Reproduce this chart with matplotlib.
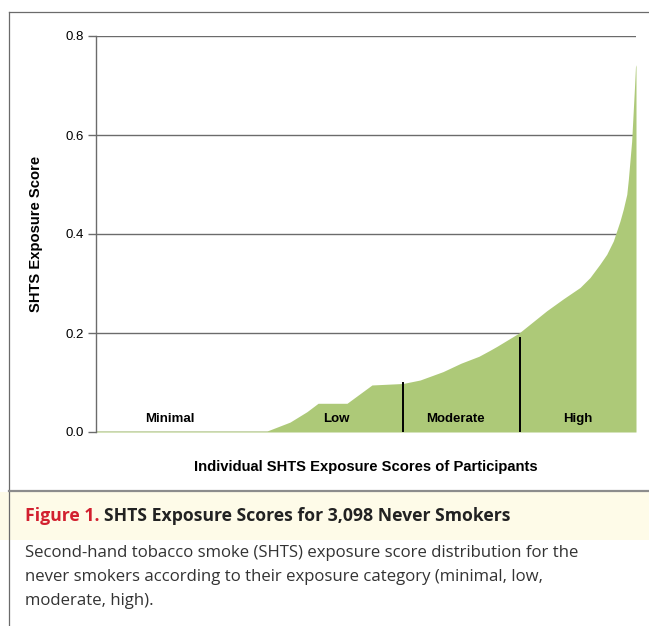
import matplotlib
matplotlib.use('Agg')
import matplotlib.pyplot as plt
from matplotlib.patches import Rectangle
from matplotlib.lines import Line2D

# participants sorted by exposure score (rank, score)
rank = [0, 981, 1113, 1210, 1274, 1440, 1583, 1761, 1859, 1991, 2094, 2197,
        2260, 2300, 2427, 2586, 2681, 2777, 2834, 2891, 2930, 2968, 2987,
        3006, 3025, 3045, 3054, 3073, 3083, 3089, 3095, 3098]
score = [0.002, 0.002, 0.020, 0.041, 0.058, 0.058, 0.095, 0.098, 0.105,
         0.122, 0.139, 0.153, 0.165, 0.173, 0.200, 0.245, 0.269, 0.292,
         0.312, 0.339, 0.359, 0.386, 0.406, 0.426, 0.450, 0.480, 0.510,
         0.587, 0.654, 0.694, 0.738, 0.742]

# category boundaries (rank, line height) and labels
cut_rank = [1761, 2432]
cut_top = [0.098, 0.190]
cat_names = ['Minimal', 'Low', 'Moderate', 'High']
cat_pos = [425, 1380, 2060, 2765]

yticks = [0.0, 0.2, 0.4, 0.6, 0.8]

green = '#adc978'
grey = '#6b6b6b'

fig = plt.figure(figsize=(6.49, 6.26), dpi=100)
W, H = 649.0, 626.0

ax = fig.add_axes([96 / W, 1 - 432 / H, 540 / W, 396 / H])
ax.fill_between(rank, 0, score, color=green, linewidth=0, zorder=2)
for r, t in zip(cut_rank, cut_top):
    ax.plot([r, r], [0, t], color='black', linewidth=1.4, zorder=3)
for name, p in zip(cat_names, cat_pos):
    ax.text(p, 0.027, name, ha='center', va='center', fontsize=9.5,
            fontweight='bold', family='Liberation Sans', zorder=4)

ax.set_xlim(0, 3098)
ax.set_ylim(0, 0.8)
ax.set_yticks(yticks)
ax.set_yticklabels(['%.1f' % v for v in yticks], family='Liberation Sans',
                   fontsize=9.5)
ax.set_xticks([])
for v in yticks[1:]:
    ax.axhline(v, color=grey, linewidth=1.0, zorder=1)
ax.axhline(0, color=grey, linewidth=1.0, zorder=1)
for s in ['top', 'right', 'bottom']:
    ax.spines[s].set_visible(False)
ax.spines['left'].set_color(grey)
ax.spines['left'].set_linewidth(1.0)
ax.tick_params(axis='y', length=5.8, width=1.0, color=grey, pad=3)
ax.set_ylabel('SHTS Exposure Score', fontsize=10.6, fontweight='bold',
              family='Liberation Sans', labelpad=16)
ax.set_xlabel('Individual SHTS Exposure Scores of Participants', fontsize=10.6,
              fontweight='bold', family='Liberation Sans', labelpad=20)

# frame around the figure and caption band
fig.add_artist(Rectangle((0, 1 - 540 / H), 1, 48 / H, transform=fig.transFigure,
                         facecolor='#fefbe8', edgecolor='none', zorder=0))
fig.add_artist(Line2D([9 / W, 1], [1 - 12 / H, 1 - 12 / H],
                      transform=fig.transFigure, color=grey, linewidth=0.9))
fig.add_artist(Line2D([9 / W, 9 / W], [0, 1 - 12 / H],
                      transform=fig.transFigure, color=grey, linewidth=0.9))
fig.add_artist(Line2D([9 / W, 1], [1 - 491 / H, 1 - 491 / H],
                      transform=fig.transFigure, color='#8c8c8c', linewidth=1.6))

cap_y = 1 - 516 / H
t1 = fig.text(25 / W, cap_y, 'Figure 1.', color='#d2202f', fontsize=12.7,
              fontweight='bold', family='Open Sans', va='center')
fig.canvas.draw()
bb = t1.get_window_extent()
fig.text((bb.x1 + 5) / W, cap_y, 'SHTS Exposure Scores for 3,098 Never Smokers',
         color='#222222', fontsize=12.7, fontweight='bold', family='Open Sans',
         va='center')

body = ['Second-hand tobacco smoke (SHTS) exposure score distribution for the',
        'never smokers according to their exposure category (minimal, low,',
        'moderate, high).']
for i, line in enumerate(body):
    fig.text(25 / W, 1 - (553 + 24 * i) / H, line, color='#333333',
             fontsize=12.1, family='Open Sans', va='center')

fig.savefig('out.png', dpi=100)
